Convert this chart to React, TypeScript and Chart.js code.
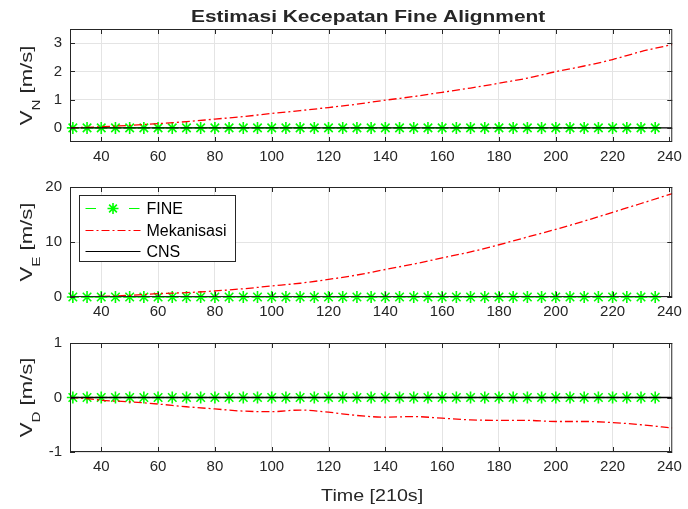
import { useEffect, useRef } from "react";
import { Chart, registerables } from "chart.js";

Chart.register(...registerables);

// ---------- data ----------
const xTicks = [40, 60, 80, 100, 120, 140, 160, 180, 200, 220, 240];
const yTicksN = [0, 1, 2, 3];
const yTicksE = [0, 10, 20];
const yTicksD = [-1, 0, 1];

const mechTimes = [29, 35, 40, 50, 60, 70, 80, 90, 100, 110, 120, 130, 140, 150, 160, 170, 180, 190, 200, 210, 220, 230, 241];
const mechVN = [0, 0.02, 0.04, 0.09, 0.15, 0.22, 0.31, 0.4, 0.51, 0.61, 0.72, 0.84, 0.98, 1.11, 1.26, 1.41, 1.58, 1.76, 1.99, 2.19, 2.42, 2.7, 2.95];
const mechVE = [0, 0.05, 0.1, 0.3, 0.6, 0.8, 1.1, 1.5, 2.0, 2.5, 3.2, 4.0, 5.0, 6.0, 7.1, 8.2, 9.5, 10.9, 12.3, 13.8, 15.4, 17.0, 18.8];
const mechVD = [0, -0.02, -0.05, -0.08, -0.12, -0.17, -0.21, -0.25, -0.26, -0.23, -0.27, -0.33, -0.36, -0.35, -0.38, -0.41, -0.42, -0.42, -0.44, -0.44, -0.46, -0.5, -0.56];

const fineTimes = [30, 35, 40, 45, 50, 55, 60, 65, 70, 75, 80, 85, 90, 95, 100, 105, 110, 115, 120, 125, 130, 135, 140, 145, 150, 155, 160, 165, 170, 175, 180, 185, 190, 195, 200, 205, 210, 215, 220, 225, 230, 235];
const fineVN = [0, 0, 0, 0, 0, 0, 0, 0, 0, 0, 0, 0, 0, 0, 0, 0, 0, 0, 0, 0, 0, 0, 0, 0, 0, 0, 0, 0, 0, 0, 0, 0, 0, 0, 0, 0, 0, 0, 0, 0, 0, 0];
const fineVE = [0, 0, 0, 0, 0, 0, 0, 0, 0, 0, 0, 0, 0, 0, 0, 0, 0, 0, 0, 0, 0, 0, 0, 0, 0, 0, 0, 0, 0, 0, 0, 0, 0, 0, 0, 0, 0, 0, 0, 0, 0, 0];
const fineVD = [0, 0, 0, 0, 0, 0, 0, 0, 0, 0, 0, 0, 0, 0, 0, 0, 0, 0, 0, 0, 0, 0, 0, 0, 0, 0, 0, 0, 0, 0, 0, 0, 0, 0, 0, 0, 0, 0, 0, 0, 0, 0];

const cnsTimes = [29, 241];
const cnsVN = [0, 0];
const cnsVE = [0, 0];
const cnsVD = [0, 0];

const seriesLabels = ["FINE", "Mekanisasi", "CNS"];
const titleText = "Estimasi Kecepatan Fine Alignment";
const xTitleText = "Time [210s]";

// ---------- styles ----------
const FONT = '"Liberation Sans", Arial, Helvetica, sans-serif';
const TEXT = "#262626";
const GREEN = "#00ff00";
const RED = "#ff0000";
const GRID = "#e4e4e4";
const RED_DASH = [8, 3, 2, 3];
const GREEN_DASH = [6, 4];

const zip = (xs: number[], ys: number[]) => xs.map((x, i) => ({ x, y: ys[i] }));

function drawStar(ctx: CanvasRenderingContext2D, cx: number, cy: number, r: number) {
  ctx.beginPath();
  for (let k = 0; k < 4; k++) {
    const a = (k * Math.PI) / 4;
    ctx.moveTo(cx - r * Math.cos(a), cy - r * Math.sin(a));
    ctx.lineTo(cx + r * Math.cos(a), cy + r * Math.sin(a));
  }
  ctx.stroke();
}

const framePlugin = {
  id: "frame",
  afterDatasetsDraw(chart: any) {
    const { ctx, chartArea, scales } = chart;
    const { left, right, top, bottom } = chartArea;
    ctx.save();
    ctx.strokeStyle = TEXT;
    ctx.lineWidth = 1;
    ctx.strokeRect(left + 0.5, top + 0.5, right - left - 1, bottom - top - 1);
    const L = 5;
    ctx.beginPath();
    for (const t of scales.x.ticks) {
      const px = Math.round(scales.x.getPixelForValue(t.value)) + 0.5;
      ctx.moveTo(px, bottom);
      ctx.lineTo(px, bottom - L);
      ctx.moveTo(px, top);
      ctx.lineTo(px, top + L);
    }
    for (const t of scales.y.ticks) {
      const py = Math.round(scales.y.getPixelForValue(t.value)) + 0.5;
      ctx.moveTo(left, py);
      ctx.lineTo(left + L, py);
      ctx.moveTo(right, py);
      ctx.lineTo(right - L, py);
    }
    ctx.stroke();
    ctx.restore();
  },
};

const textPlugin = {
  id: "texts",
  afterDraw(chart: any, _a: any, opts: any) {
    const { ctx, chartArea } = chart;
    const cx = (chartArea.left + chartArea.right) / 2;
    const cy = (chartArea.top + chartArea.bottom) / 2;
    ctx.save();
    ctx.fillStyle = TEXT;
    ctx.textBaseline = "alphabetic";
    if (opts.ySub) {
      ctx.save();
      ctx.translate(opts.yLabelX, cy);
      ctx.rotate(-Math.PI / 2);
      ctx.scale(1.38, 1);
      const big = `16px ${FONT}`;
      const small = `11px ${FONT}`;
      ctx.font = big;
      const w1 = ctx.measureText("V").width;
      const w3 = ctx.measureText(" [m/s]").width;
      ctx.font = small;
      const w2 = ctx.measureText(opts.ySub).width;
      const x0 = -(w1 + w2 + w3) / 2;
      ctx.textAlign = "left";
      ctx.font = big;
      ctx.fillText("V", x0, 0);
      ctx.font = small;
      ctx.fillText(opts.ySub, x0 + w1, 8);
      ctx.font = big;
      ctx.fillText(" [m/s]", x0 + w1 + w2, 0);
      ctx.restore();
    }
    if (opts.title) {
      ctx.save();
      ctx.font = `bold 17px ${FONT}`;
      ctx.textAlign = "center";
      ctx.translate(cx - 3, opts.titleY);
      ctx.scale(1.23, 1);
      ctx.fillText(opts.title, 0, 0);
      ctx.restore();
    }
    if (opts.xTitle) {
      ctx.save();
      ctx.font = `16px ${FONT}`;
      ctx.textAlign = "center";
      ctx.translate(cx + 1, opts.xTitleY);
      ctx.scale(1.23, 1);
      ctx.fillText(opts.xTitle, 0, 0);
      ctx.restore();
    }
    if (opts.legend) {
      const bx = chartArea.left + 9.5;
      const by = chartArea.top + 8.5;
      const bw = 156;
      const bh = 66;
      ctx.fillStyle = "#ffffff";
      ctx.fillRect(bx, by, bw, bh);
      ctx.strokeStyle = TEXT;
      ctx.lineWidth = 1;
      ctx.strokeRect(bx, by, bw, bh);
      const rows = [12.5, 34, 55];
      const lx0 = bx + 6;
      const lx1 = bx + 61;
      ctx.font = `16px ${FONT}`;
      ctx.textAlign = "left";
      ctx.textBaseline = "middle";
      rows.forEach((ry, i) => {
        const y = Math.round(by + ry) + 0.5;
        ctx.beginPath();
        if (i === 0) {
          ctx.strokeStyle = GREEN;
          ctx.setLineDash([10.5, 33]);
        } else if (i === 1) {
          ctx.strokeStyle = RED;
          ctx.setLineDash(RED_DASH);
        } else {
          ctx.strokeStyle = "#000000";
          ctx.setLineDash([]);
        }
        ctx.moveTo(lx0, y);
        ctx.lineTo(lx1, y);
        ctx.stroke();
        ctx.setLineDash([]);
        if (i === 0) {
          ctx.lineWidth = 1.6;
          drawStar(ctx, (lx0 + lx1) / 2, y, 5.5);
          ctx.lineWidth = 1;
        }
        ctx.fillStyle = "#000000";
        ctx.fillText(seriesLabels[i], bx + 67, y + 1);
      });
    }
    ctx.restore();
  },
};

type Panel = {
  top: number;
  height: number;
  padTop: number;
  plotH: number;
  yMin: number;
  yMax: number;
  yTicks: number[];
  mech: number[];
  fine: number[];
  cns: number[];
  sub: string;
  title?: boolean;
  legend?: boolean;
  xTitle?: boolean;
};

const panels: Panel[] = [
  { top: 0, height: 170, padTop: 29, plotH: 113, yMin: -0.5, yMax: 3.5, yTicks: yTicksN, mech: mechVN, fine: fineVN, cns: cnsVN, sub: "N", title: true },
  { top: 170, height: 156, padTop: 15, plotH: 112, yMin: 0, yMax: 20, yTicks: yTicksE, mech: mechVE, fine: fineVE, cns: cnsVE, sub: "E", legend: true },
  { top: 326, height: 183, padTop: 15, plotH: 111, yMin: -1, yMax: 1, yTicks: yTicksD, mech: mechVD, fine: fineVD, cns: cnsVD, sub: "D", xTitle: true },
];

function PanelChart({ p }: { p: Panel }) {
  const ref = useRef<HTMLCanvasElement>(null);
  useEffect(() => {
    if (!ref.current) return;
    const xAxisH = p.height - p.padTop - p.plotH;
    const chart = new Chart(ref.current, {
      type: "line",
      data: {
        datasets: [
          {
            label: seriesLabels[0],
            data: zip(fineTimes, p.fine),
            borderColor: GREEN,
            borderWidth: 1,
            borderDash: GREEN_DASH,
            pointStyle: "star",
            pointRadius: 6,
            pointBorderColor: GREEN,
            pointBorderWidth: 1.6,
            pointBackgroundColor: GREEN,
            clip: false,
            order: 2,
          },
          {
            label: seriesLabels[1],
            data: zip(mechTimes, p.mech),
            borderColor: RED,
            borderWidth: 1.3,
            borderDash: RED_DASH,
            pointRadius: 0,
            cubicInterpolationMode: "monotone",
            order: 1,
          },
          {
            label: seriesLabels[2],
            data: zip(cnsTimes, p.cns),
            borderColor: "#000000",
            borderWidth: 1.4,
            pointRadius: 0,
            order: 0,
          },
        ],
      },
      options: {
        animation: false,
        responsive: false,
        devicePixelRatio: 1,
        layout: { padding: { left: 0, right: 15, top: p.padTop, bottom: 0 } },
        plugins: {
          legend: { display: false },
          tooltip: { enabled: false },
          texts: {
            ySub: p.sub,
            yLabelX: 32,
            title: p.title ? titleText : null,
            titleY: 22,
            xTitle: p.xTitle ? xTitleText : null,
            xTitleY: 175,
            legend: !!p.legend,
          },
        } as any,
        scales: {
          x: {
            type: "linear",
            min: 29,
            max: 241,
            afterBuildTicks: (axis: any) => {
              axis.ticks = xTicks.map((v) => ({ value: v }));
            },
            afterFit: (axis: any) => {
              axis.height = xAxisH;
            },
            grid: { color: GRID, drawTicks: false },
            border: { display: false },
            ticks: { color: TEXT, font: { family: FONT, size: 15 }, padding: 6, maxRotation: 0, autoSkip: false },
          },
          y: {
            type: "linear",
            min: p.yMin,
            max: p.yMax,
            afterBuildTicks: (axis: any) => {
              axis.ticks = p.yTicks.map((v) => ({ value: v }));
            },
            afterFit: (axis: any) => {
              axis.width = 70;
            },
            grid: { color: GRID, drawTicks: false },
            border: { display: false },
            ticks: { color: TEXT, font: { family: FONT, size: 15 }, padding: 8 },
          },
        },
      },
      plugins: [framePlugin, textPlugin],
    });
    return () => chart.destroy();
  }, [p]);
  return (
    <canvas
      ref={ref}
      width={688}
      height={p.height}
      style={{ position: "absolute", left: 0, top: p.top, width: 688, height: p.height }}
    />
  );
}

export default function App() {
  return (
    <div style={{ position: "fixed", left: 0, top: 0, width: 688, height: 509, background: "#ffffff" }}>
      {panels.map((p, i) => (
        <PanelChart key={i} p={p} />
      ))}
    </div>
  );
}
